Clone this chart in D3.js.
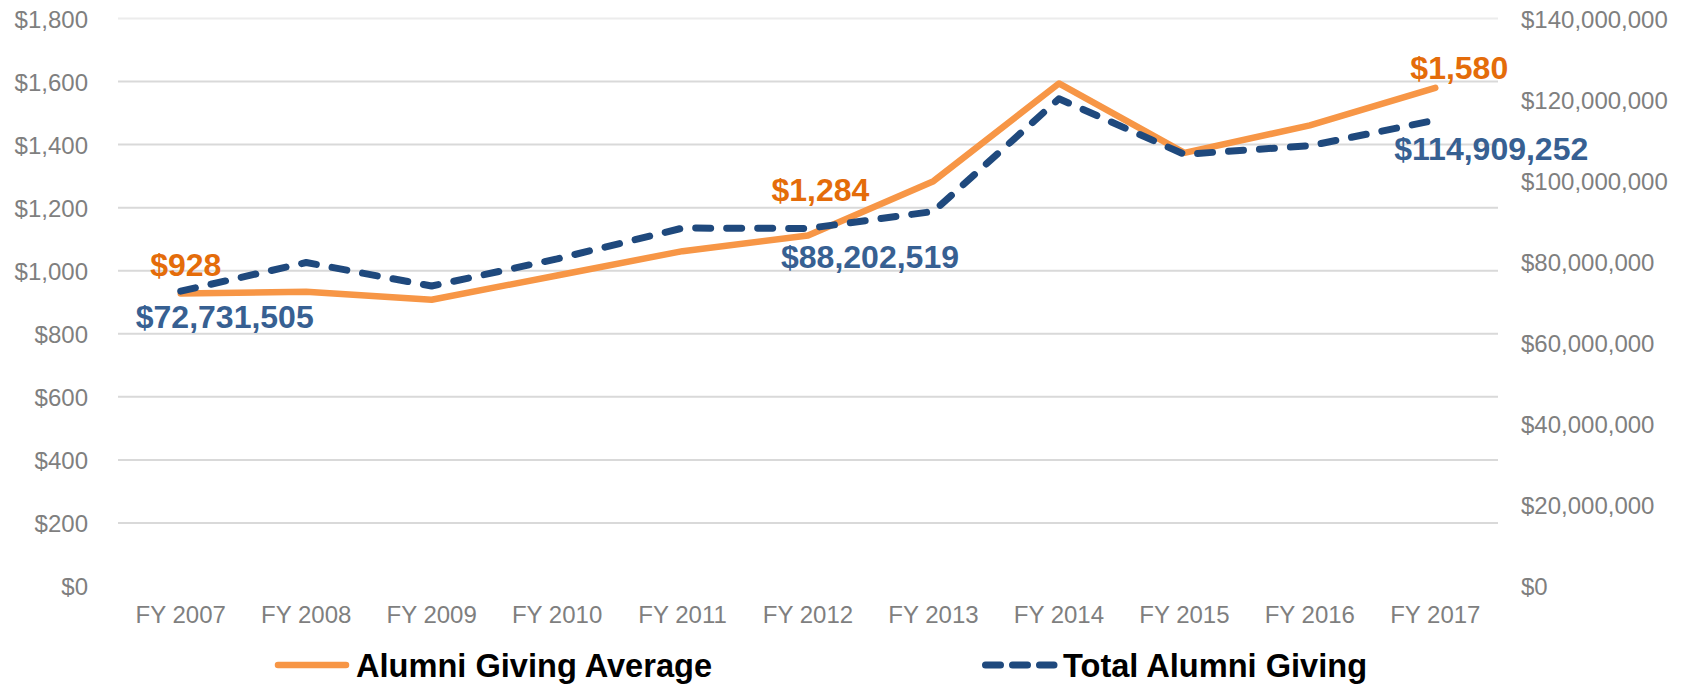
<!DOCTYPE html>
<html lang="en">
<head>
	<title> Alumni Giving </title>
	<meta charset="utf-8">
	<script src="https://cdn.jsdelivr.net/npm/d3@7/dist/d3.min.js" charset="utf-8"></script>
</head>
<style>
	body
	{
		margin: 0;
		background: #fff;
	}

	svg
	{
		font-family: "Liberation Sans", Arial, sans-serif;
	}

	.axis path
	{
		display: none;
	}

	.axis text
	{
		fill: #7f7f7f;
		font-size: 24px;
	}

	.grid
	{
		stroke: #d9d9d9;
		stroke-width: 2;
	}
</style>

<body>

	<svg id="chart" width="1684" height="686"></svg>
	<script type="text/javascript">

		// data
		var categories = ['FY 2007','FY 2008','FY 2009','FY 2010','FY 2011','FY 2012','FY 2013','FY 2014','FY 2015','FY 2016','FY 2017'];
		var avgGiving = [928, 933, 908, 985, 1062, 1112, 1284, 1594, 1374, 1461, 1580];
		var totalGiving = [72731505, 79800000, 74000000, 80700000, 88300000, 88202519, 92400000, 120200000, 106500000, 108600000, 114909252];
		var leftTicks = [0, 200, 400, 600, 800, 1000, 1200, 1400, 1600, 1800];
		var rightTicks = [0, 20000000, 40000000, 60000000, 80000000, 100000000, 120000000, 140000000];
		var seriesNames = ['Alumni Giving Average', 'Total Alumni Giving'];

		// which points carry a value label, and where it sits
		var avgLabels = [
			{i: 0, dx: 5, dy: -17},
			{i: 6, dx: -113, dy: 20},
			{i: 10, dx: 24, dy: -9}
		];
		var totalLabels = [
			{i: 0, dx: 44, dy: 37},
			{i: 5, dx: 62, dy: 40},
			{i: 10, dx: 56, dy: 40}
		];

		var svg = d3.select('#chart'),
			margin = {top: 18.5, bottom: 100, right: 186, left: 118},
			width = +svg.attr('width'),
			height = +svg.attr('height'),
			plotBottom = height - margin.bottom;

		var orange = '#f79646', orangeText = '#e46c0a',
			blue = '#1f497d', blueText = '#376092';

		var x = d3.scaleBand().domain(categories).range([margin.left, width - margin.right]),
			yL = d3.scaleLinear().domain([0, 1800]).range([plotBottom, margin.top]),
			yR = d3.scaleLinear().domain([0, 140000000]).range([plotBottom, margin.top]);

		var cx = function(i) { return x(categories[i]) + x.bandwidth() / 2; };

		// gridlines (no line at zero)
		svg.append('g').selectAll('line')
			.data(leftTicks.filter(function(d) { return d > 0; }))
			.enter().append('line')
			.attr('class', 'grid')
			.attr('x1', margin.left)
			.attr('x2', width - margin.right)
			.attr('y1', function(d) { return yL(d); })
			.attr('y2', function(d) { return yL(d); })
			.style('stroke', function(d) { return d === 1800 ? '#ececec' : null; });

		svg.append('g')
			.attr('class', 'axis')
			.attr('transform', 'translate(' + margin.left + ',0)')
			.call(d3.axisLeft(yL).tickValues(leftTicks).tickFormat(d3.format('$,')).tickSize(0).tickPadding(30));

		svg.append('g')
			.attr('class', 'axis')
			.attr('transform', 'translate(' + (width - margin.right) + ',0)')
			.call(d3.axisRight(yR).tickValues(rightTicks).tickFormat(d3.format('$,')).tickSize(0).tickPadding(23));

		svg.append('g')
			.attr('class', 'axis')
			.attr('transform', 'translate(0,' + plotBottom + ')')
			.call(d3.axisBottom(x).tickSize(0).tickPadding(20));

		svg.selectAll('.axis .tick text').attr('dy', function() {
			return d3.select(this.parentNode.parentNode).attr('transform').indexOf('translate(0') === 0 ? '0.71em' : '0.36em';
		});

		var lineL = d3.line().x(function(d, i) { return cx(i); }).y(function(d) { return yL(d); }),
			lineR = d3.line().x(function(d, i) { return cx(i); }).y(function(d) { return yR(d); });

		svg.append('path')
			.attr('d', lineL(avgGiving))
			.attr('fill', 'none')
			.attr('stroke', orange)
			.attr('stroke-width', 6.5)
			.attr('stroke-linecap', 'round')
			.attr('stroke-linejoin', 'round');

		svg.append('path')
			.attr('d', lineR(totalGiving))
			.attr('fill', 'none')
			.attr('stroke', blue)
			.attr('stroke-width', 7)
			.attr('stroke-dasharray', '15,16')
			.attr('stroke-linecap', 'round')
			.attr('stroke-linejoin', 'round');

		// value labels
		svg.append('g').selectAll('text')
			.data(avgLabels)
			.enter().append('text')
			.attr('x', function(d) { return cx(d.i) + d.dx; })
			.attr('y', function(d) { return yL(avgGiving[d.i]) + d.dy; })
			.attr('text-anchor', 'middle')
			.attr('font-size', 32)
			.attr('font-weight', 'bold')
			.attr('fill', orangeText)
			.text(function(d) { return d3.format('$,')(avgGiving[d.i]); });

		svg.append('g').selectAll('text')
			.data(totalLabels)
			.enter().append('text')
			.attr('x', function(d) { return cx(d.i) + d.dx; })
			.attr('y', function(d) { return yR(totalGiving[d.i]) + d.dy; })
			.attr('text-anchor', 'middle')
			.attr('font-size', 32)
			.attr('font-weight', 'bold')
			.attr('fill', blueText)
			.text(function(d) { return d3.format('$,')(totalGiving[d.i]); });

		// legend
		var legend = svg.append('g');

		legend.append('line')
			.attr('x1', 278).attr('x2', 346)
			.attr('y1', 665).attr('y2', 665)
			.attr('stroke', orange)
			.attr('stroke-width', 6.5)
			.attr('stroke-linecap', 'round');

		legend.append('text')
			.attr('x', 356).attr('y', 676.5)
			.attr('font-size', 32.6)
			.attr('font-weight', 'bold')
			.attr('fill', '#000')
			.text(seriesNames[0]);

		legend.append('line')
			.attr('x1', 985.5).attr('x2', 1054)
			.attr('y1', 665).attr('y2', 665)
			.attr('stroke', blue)
			.attr('stroke-width', 7)
			.attr('stroke-dasharray', '15,12')
			.attr('stroke-linecap', 'round');

		legend.append('text')
			.attr('x', 1063).attr('y', 676.5)
			.attr('font-size', 32.6)
			.attr('font-weight', 'bold')
			.attr('fill', '#000')
			.text(seriesNames[1]);
	</script>
</body>
</html>
